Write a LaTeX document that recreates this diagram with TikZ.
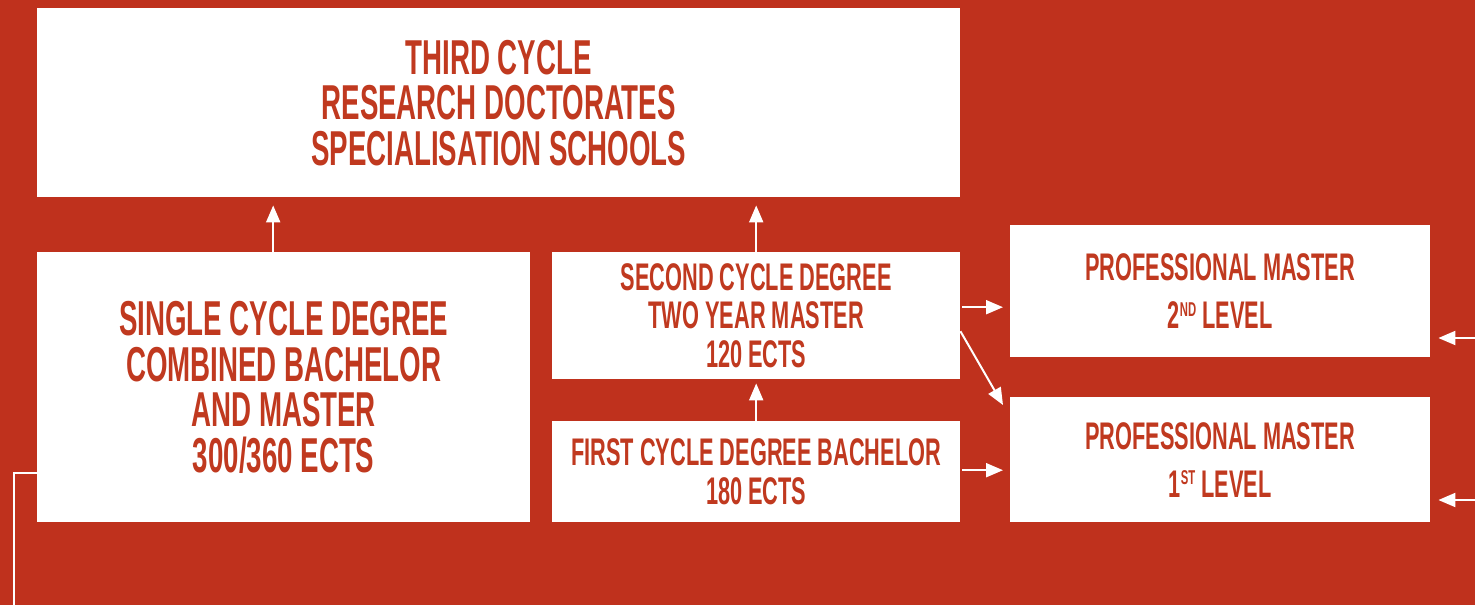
\documentclass[tikz,border=0pt]{standalone}
\usepackage{fontspec}
\newfontfamily\din{Liberation Sans}[FakeStretch=0.565]
\usetikzlibrary{arrows.meta}
\definecolor{bgred}{HTML}{BF311D}
\definecolor{txtred}{HTML}{C0391F}
\tikzset{
  box/.style={draw=none, fill=white, text=txtred, align=center, inner sep=0pt, anchor=north west},
  bigtxt/.style={font=\din\bfseries\fontsize{49}{45.5}\selectfont},
  midtxt/.style={font=\din\bfseries\fontsize{38.5}{38.5}\selectfont},
  protxt/.style={font=\din\bfseries\fontsize{38.5}{48}\selectfont},
  arr/.style={draw=white, line width=2pt, -{Triangle[width=14pt,length=17pt]}},
  wline/.style={draw=white, line width=2pt}
}
\newcommand{\sups}[1]{\raisebox{12.5pt}{\fontsize{20}{20}\selectfont #1}}
\begin{document}
\begin{tikzpicture}[x=1pt,y=-1pt]
\fill[bgred] (0,0) rectangle (1475,605);
\useasboundingbox (0,0) rectangle (1475,605);

\node[box, bigtxt, minimum width=923pt, minimum height=189pt] (third) at (37,8)
  {THIRD CYCLE\\RESEARCH DOCTORATES\\SPECIALISATION SCHOOLS};
\node[box, bigtxt, minimum width=493pt, minimum height=270pt] (single) at (37,252)
  {SINGLE CYCLE DEGREE\\COMBINED BACHELOR\\AND MASTER\\300/360 ECTS};
\node[box, midtxt, minimum width=408pt, minimum height=127pt] (second) at (552,252)
  {SECOND CYCLE DEGREE\\TWO YEAR MASTER\\120 ECTS};
\node[box, midtxt, minimum width=408pt, minimum height=101pt] (first) at (552,421)
  {FIRST CYCLE DEGREE BACHELOR\\180 ECTS};
\node[box, protxt, minimum width=420pt, minimum height=132pt] (pm2) at (1010,225)
  {PROFESSIONAL MASTER\\2\sups{ND}\,LEVEL};
\node[box, protxt, minimum width=420pt, minimum height=125pt] (pm1) at (1010,397)
  {PROFESSIONAL MASTER\\1\sups{ST}\,LEVEL};

% upward arrows
\draw[arr, shorten >=8pt] ([xshift=-10.5pt]single.north) -- ([xshift=-10.5pt]single.north |- third.south);
\draw[arr, shorten >=8pt] (second.north) -- (second.north |- third.south);
\draw[arr, shorten >=4pt] (first.north) -- (second.south);

% rightward arrows
\draw[arr, shorten <=2pt, shorten >=7pt] ([yshift=8.5pt]second.east) -- ([yshift=8.5pt]second.east -| pm2.west);
\draw[arr] ([yshift=-15.5pt]second.east) -- ([xshift=-7pt,yshift=-8pt]pm1.north west);
\draw[arr, shorten <=2pt, shorten >=7pt] ([yshift=1.5pt]first.east) -- ([yshift=1.5pt]first.east -| pm1.west);

% incoming arrows from the right edge
\coordinate (r2) at (1475,338);
\coordinate (r1) at (1475,500);
\draw[arr, shorten >=8pt] (r2) -- (r2 -| pm2.east);
\draw[arr, shorten >=8pt] (r1) -- (r1 -| pm1.east);

% outgoing line at bottom left
\coordinate (bl) at (14,605);
\draw[wline] ([yshift=-86pt]single.west) -| (bl);
\end{tikzpicture}
\end{document}
